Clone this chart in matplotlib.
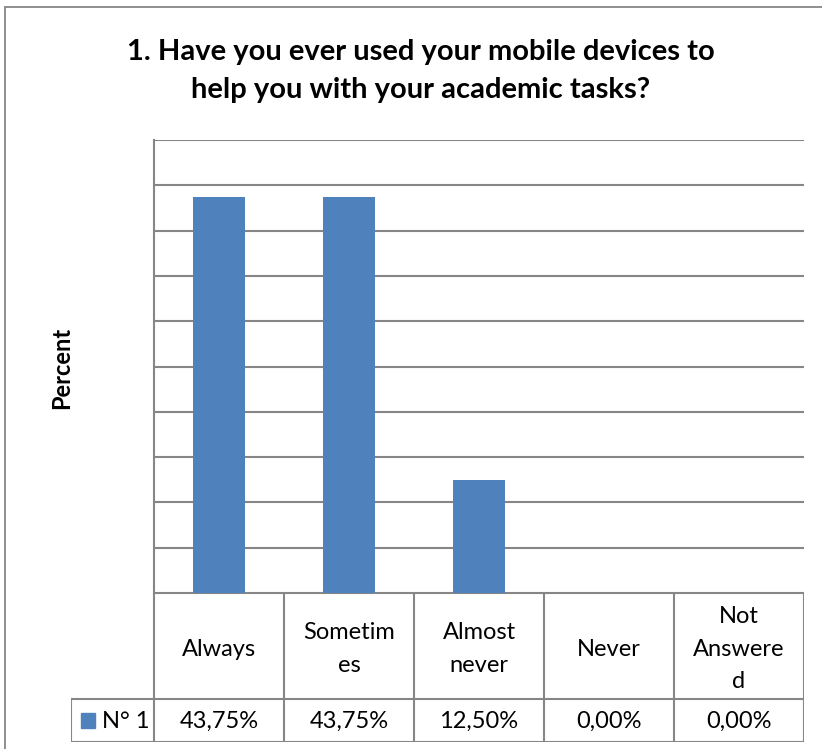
import matplotlib.pyplot as plt
from matplotlib.patches import Rectangle

plt.rcParams['font.family'] = ['Lato', 'DejaVu Sans']

title = "1. Have you ever used your mobile devices to\nhelp you with your academic tasks?"
categories = ["Always", "Sometim\nes", "Almost\nnever", "Never", "Not\nAnswere\nd"]
values = [43.75, 43.75, 12.50, 0.00, 0.00]
series_name = "N° 1"

bar_color = "#4F81BD"
line_color = "#868686"

W, H = 822, 749
fig = plt.figure(figsize=(W / 100, H / 100), dpi=100)


def fx(px):
    return px / W


def fy(py):
    return 1 - py / H


# outer chart frame
fig.patches.append(Rectangle((fx(5), fy(760)), fx(830) - fx(5), fy(7) - fy(760),
                             transform=fig.transFigure, fill=False,
                             edgecolor=line_color, lw=1.3))

fig.text(fx(421), fy(71), title, ha="center", va="center", fontsize=21,
         fontweight="bold", linespacing=1.55)

# plot area
left, right, top, bottom = 154, 804, 140, 593
ax = fig.add_axes([fx(left), fy(bottom), fx(right) - fx(left), fy(top) - fy(bottom)])
x = list(range(len(categories)))
ax.bar(x, values, width=0.4, color=bar_color, zorder=3)
ax.set_xlim(-0.5, len(categories) - 0.5)
ax.set_ylim(0, 50)
ax.set_yticks(range(0, 51, 5))
ax.yaxis.grid(True, color=line_color, lw=1.5)
ax.set_axisbelow(True)
ax.tick_params(left=False, bottom=False, labelleft=False, labelbottom=False)
for s in ["top", "right", "bottom"]:
    ax.spines[s].set_visible(False)
ax.spines["left"].set_color(line_color)
ax.spines["left"].set_linewidth(1.5)

fig.text(fx(62), fy(368), "Percent", rotation=90, ha="center", va="center",
         fontsize=17, fontweight="bold")

# data table under the plot
t_left, t_top, t_bottom, row_split = 71, 593, 742, 699
head_w = (left - t_left) / ((right - left) / len(categories))
tax = fig.add_axes([fx(t_left), fy(t_bottom), fx(right) - fx(t_left), fy(t_top) - fy(t_bottom)])
tax.set_xlim(-0.5 - head_w, len(categories) - 0.5)
tax.set_ylim(t_bottom, t_top)
tax.axis("off")

kw = dict(color=line_color, lw=1.5, solid_capstyle="projecting")
# horizontal rules
tax.plot([-0.5, len(categories) - 0.5], [t_top, t_top], **kw)
tax.plot([-0.5 - head_w, len(categories) - 0.5], [row_split, row_split], **kw)
tax.plot([-0.5 - head_w, len(categories) - 0.5], [t_bottom, t_bottom], **kw)
# vertical rules
tax.plot([-0.5 - head_w, -0.5 - head_w], [row_split, t_bottom], **kw)
for i in range(len(categories) + 1):
    tax.plot([i - 0.5, i - 0.5], [t_top, t_bottom], **kw)

for i, (cat, v) in enumerate(zip(categories, values)):
    tax.text(i, (t_top + row_split) / 2 + 3, cat, ha="center", va="center",
             fontsize=17, linespacing=1.7)
    tax.text(i, (row_split + t_bottom) / 2 + 1, f"{v:.2f}%".replace(".", ","),
             ha="center", va="center", fontsize=17)

# legend key in the row header
key_x = -0.5 - head_w + 10 / 130
tax.add_patch(Rectangle((key_x, 713), 14 / 130, 15, color=bar_color))
tax.text(key_x + 21 / 130, (row_split + t_bottom) / 2 + 1, series_name,
         ha="left", va="center", fontsize=17)

fig.savefig("out.png", dpi=100, facecolor="white")
